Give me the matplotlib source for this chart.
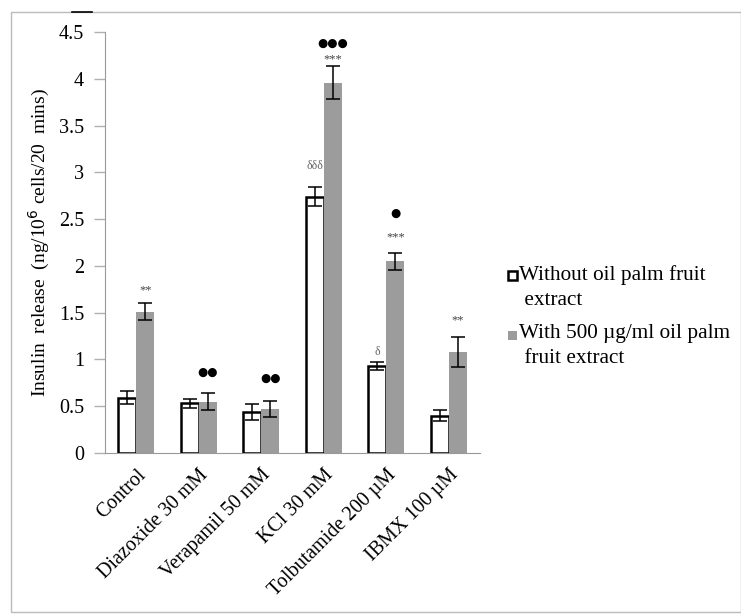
import numpy as np
import matplotlib
matplotlib.use('Agg')
import matplotlib.pyplot as plt
from matplotlib.patches import Rectangle

plt.rcParams['font.family'] = ['Liberation Serif', 'DejaVu Serif']

# Dados
categorias = ['Control', 'Diazoxide 30 mM', 'Verapamil 50 mM', 'KCl 30 mM',
              'Tolbutamide 200 \u00b5M', 'IBMX 100 \u00b5M']
sem_extrato = [0.59, 0.53, 0.44, 2.74, 0.93, 0.40]
sem_extrato_err = [0.07, 0.05, 0.085, 0.10, 0.04, 0.055]
com_extrato = [1.51, 0.55, 0.47, 3.96, 2.05, 1.08]
com_extrato_err = [0.09, 0.09, 0.09, 0.18, 0.09, 0.16]
legendas = ['Without oil palm fruit\n extract', 'With 500 \u00b5g/ml oil palm\n fruit extract']

# anotações: (indice, serie, texto, valor y)
anotacoes = [
    (0, 1, '**', 1.74),
    (1, 1, '\u25cf\u25cf', 0.86),
    (2, 1, '\u25cf\u25cf', 0.80),
    (3, 0, '\u03b4\u03b4\u03b4', 3.07),
    (3, 1, '***', 4.21),
    (3, 1, '\u25cf\u25cf\u25cf', 4.38),
    (4, 0, '\u03b4', 1.08),
    (4, 1, '***', 2.30),
    (4, 1, '\u25cf', 2.56),
    (5, 1, '**', 1.42),
]

fig = plt.figure(figsize=(7.41, 6.16), dpi=100)
ax = fig.add_axes([105 / 741, 1 - 453 / 616, 375 / 741, 421 / 616])

x = np.arange(len(categorias))
w = 0.29
cinza = '#9c9c9c'

ax.bar(x - w / 2, sem_extrato, w, color='white', edgecolor='black', linewidth=1.8)
ax.bar(x + w / 2, com_extrato, w, color=cinza, edgecolor='none')
ax.errorbar(x - w / 2, sem_extrato, yerr=sem_extrato_err, fmt='none', ecolor='black',
            elinewidth=1.1, capsize=5, capthick=1.1)
ax.errorbar(x + w / 2, com_extrato, yerr=com_extrato_err, fmt='none', ecolor='black',
            elinewidth=1.1, capsize=5, capthick=1.1)

for i, s, txt, yv in anotacoes:
    xp = x[i] - w / 2 if s == 0 else x[i] + w / 2
    if '\u25cf' in txt:
        ax.text(xp, yv, txt, ha='center', va='center', fontsize=8.5,
                family=['DejaVu Sans'], color='black')
    elif '\u03b4' in txt:
        ax.text(xp, yv, txt, ha='center', va='center', fontsize=8.5, color='#666666')
    else:
        ax.text(xp, yv, txt, ha='center', va='center', fontsize=9, color='#444444')

ax.set_xlim(-0.5, 5.5)
ax.set_ylim(0, 4.5)
ax.set_yticks(np.arange(0, 4.51, 0.5))
ax.set_yticklabels(['0', '0.5', '1', '1.5', '2', '2.5', '3', '3.5', '4', '4.5'], fontsize=14.5)
ax.set_xticks(x)
ax.set_xticklabels(categorias, rotation=45, ha='right', rotation_mode='anchor', fontsize=14.5)
ax.tick_params(axis='x', length=0, pad=9)
ax.tick_params(axis='y', length=8, color='#b0b0b0', width=1, pad=7)
for lado in ['top', 'right']:
    ax.spines[lado].set_visible(False)
ax.spines['left'].set_color('#999999')
ax.spines['bottom'].set_color('#999999')
ax.set_ylabel('Insulin  release  (ng/10$^6$ cells/20  mins)', fontsize=14)
ax.yaxis.set_label_coords(-53 / 375, 0.5)

# legenda manual (marcador alinhado com a primeira linha)
W, H = 741, 616
for k, (rotulo, y0) in enumerate(zip(legendas, [276, 335])):
    fc, ec = ('white', 'black') if k == 0 else (cinza, 'none')
    fig.patches.append(Rectangle((508 / W, 1 - (y0 + 4.5) / H), 9 / W, 9 / H,
                                 transform=fig.transFigure, facecolor=fc,
                                 edgecolor=ec, linewidth=1.8))
    fig.text(519 / W, 1 - (y0 - 11) / H, rotulo, ha='left', va='top', fontsize=15.3,
             linespacing=1.4)

# moldura externa
fig.patches.append(Rectangle((11 / W, 1 - 612 / H), 730 / W, 600 / H,
                             transform=fig.transFigure, fill=False,
                             edgecolor='#bbbbbb', linewidth=1))
fig.lines.append(plt.Line2D([72 / W, 92 / W], [1 - 12 / H, 1 - 12 / H],
                            transform=fig.transFigure, color='black', linewidth=1.2))

fig.savefig('out.png', dpi=100)
